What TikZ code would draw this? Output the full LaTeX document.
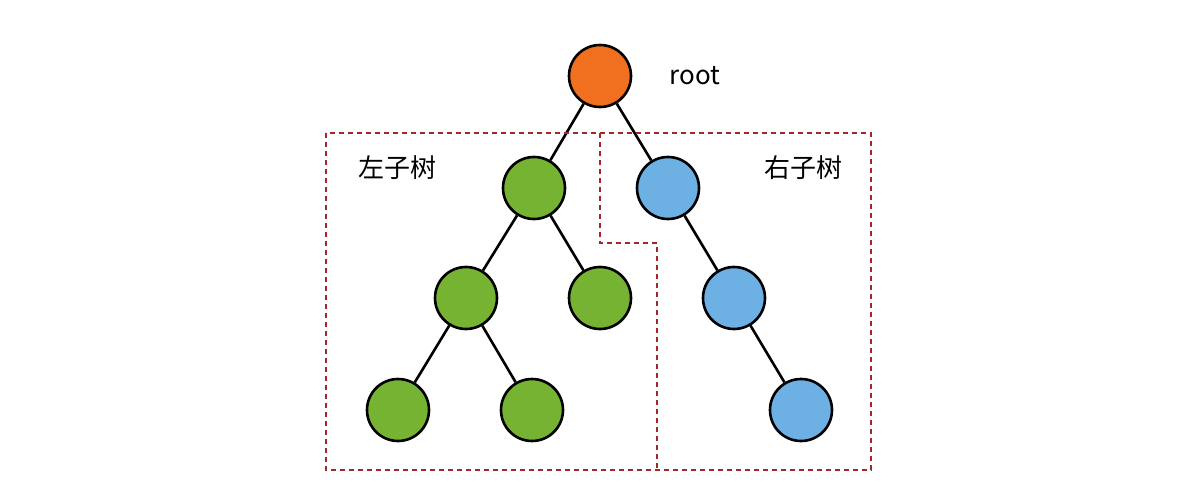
\documentclass[tikz,border=0pt]{standalone}
\usepackage{fontspec}
\newfontfamily\cjk{Noto Sans CJK SC}
\definecolor{org}{HTML}{F07020}
\definecolor{grn}{HTML}{76B333}
\definecolor{blu}{HTML}{6CB0E4}
\definecolor{dred}{HTML}{A0282A}
\begin{document}
\begin{tikzpicture}[x=1pt,y=-1pt,
  nd/.style={circle,draw=black,line width=2.6pt,minimum size=62pt,inner sep=0pt},
  ed/.style={line width=2.6pt},
  bx/.style={draw=dred,line width=1.3pt,dash pattern=on 5pt off 4pt},
  lb/.style={font=\cjk\fontsize{26}{30}\selectfont}]
\useasboundingbox (0,0) rectangle (1200,500);
\node[nd,fill=org] (r) at (600,76) {};
\node[nd,fill=grn] (a) at (534,188) {};
\node[nd,fill=blu] (b) at (668,188) {};
\node[nd,fill=grn] (c) at (466,298) {};
\node[nd,fill=grn] (d) at (600,298) {};
\node[nd,fill=blu] (e) at (734,298) {};
\node[nd,fill=grn] (f) at (398,410) {};
\node[nd,fill=grn] (g) at (532,410) {};
\node[nd,fill=blu] (h) at (801,410) {};
\draw[ed] (r)--(a) (r)--(b) (a)--(c) (a)--(d) (b)--(e) (c)--(f) (c)--(g) (e)--(h);
\draw[bx] (326,133) rectangle (871,470);
\draw[bx] (600,133)--(600,243)--(657,243)--(657,470);
\node[lb] (t0) at (695,76) {root};
\node[lb] (t1) at (397,168) {左子树};
\node[lb] (t2) at (803,168) {右子树};
\end{tikzpicture}
\end{document}
